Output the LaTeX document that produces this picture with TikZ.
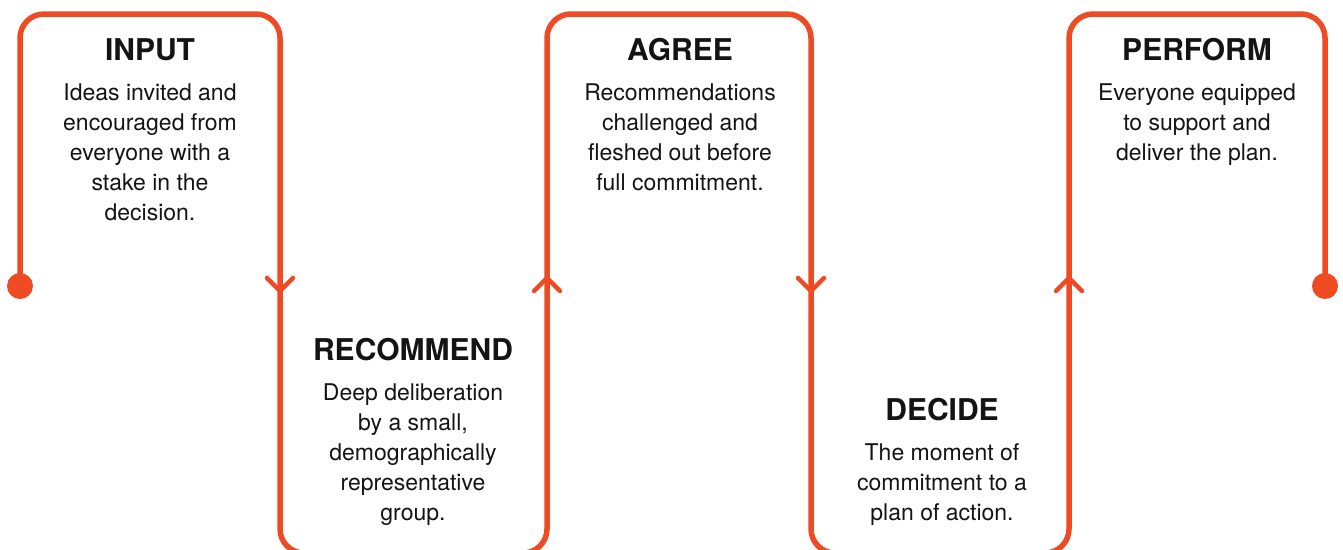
\documentclass[tikz,border=0pt]{standalone}
\usepackage{fontspec}
\setmainfont{TeX Gyre Heros}
\definecolor{flow}{RGB}{238,74,36}
\definecolor{ink}{RGB}{20,20,20}
\begin{document}
\begin{tikzpicture}[x=1pt,y=-1pt,
  flowline/.style={draw=flow,line width=5.5pt,rounded corners=24pt},
  chevron/.style={draw=flow,line width=4.5pt,line cap=round,line join=round},
  enddot/.style={circle,fill=flow,inner sep=0pt,minimum size=26pt},
  heading/.style={anchor=base,inner sep=0pt,text=ink,font=\fontsize{30}{32}\selectfont\bfseries},
  body/.style={anchor=base,inner sep=0pt,align=center,text=ink,font=\fontsize{23}{30}\selectfont}]
  \useasboundingbox (0,0) rectangle (1343,549);

  % end points of the flow line
  \node[enddot] (start) at (20,286) {};
  \node[enddot] (finish) at (1325,286) {};

  % the snaking line through the five stages
  \draw[flowline] (start.center) -- (20,14) -- (280,14) -- (280,553) -- (547,553)
    -- (547,14) -- (811,14) -- (811,553) -- (1069,553) -- (1069,14) -- (1325,14)
    -- (finish.center);

  % direction marks
  \draw[chevron] (267,278) -- (280,291) -- (293,278);
  \draw[chevron] (534,291) -- (547,278) -- (560,291);
  \draw[chevron] (798,278) -- (811,291) -- (824,278);
  \draw[chevron] (1056,291) -- (1069,278) -- (1082,291);

  % stage texts (body nodes sit on the baseline of their last line)
  \node[heading] (t1) at (150,60) {INPUT};
  \node[body] (b1) at (150,220) {Ideas invited and\\encouraged from\\everyone with a\\stake in the\\decision.};

  \node[heading] (t2) at (413,360) {RECOMMEND};
  \node[body] (b2) at (413,520) {Deep deliberation\\by a small,\\demographically\\representative\\group.};

  \node[heading] (t3) at (680,60) {AGREE};
  \node[body] (b3) at (680,190) {Recommendations\\challenged and\\fleshed out before\\full commitment.};

  \node[heading] (t4) at (942,420) {DECIDE};
  \node[body] (b4) at (942,520) {The moment of\\commitment to a\\plan of action.};

  \node[heading] (t5) at (1197,60) {PERFORM};
  \node[body] (b5) at (1197,160) {Everyone equipped\\to support and\\deliver the plan.};
\end{tikzpicture}
\end{document}
